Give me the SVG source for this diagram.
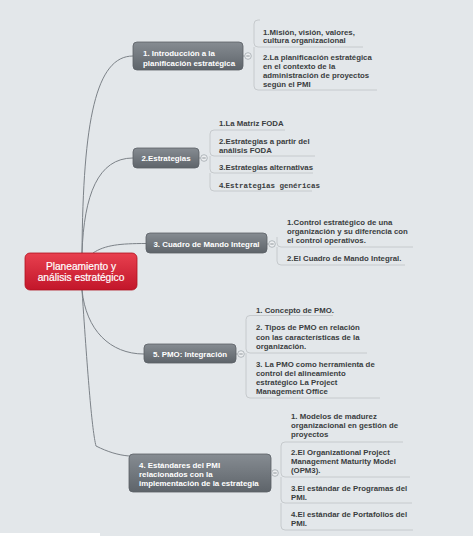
<svg xmlns="http://www.w3.org/2000/svg" width="473" height="536" viewBox="0 0 473 536">
<defs>
<linearGradient id="gGray" x1="0" y1="0" x2="0" y2="1">
<stop offset="0" stop-color="#868c92"/>
<stop offset="1" stop-color="#5e646a"/>
</linearGradient>
<linearGradient id="gRed" x1="0" y1="0" x2="0" y2="1">
<stop offset="0" stop-color="#e8404f"/>
<stop offset="1" stop-color="#c2162a"/>
</linearGradient>
<style>
.bg{fill:#e3e7ea}
.node{fill:url(#gGray);stroke:#5a6066;stroke-width:0.8}
.root{fill:url(#gRed);stroke:#b0121f;stroke-width:0.8}
.nt{font-family:"Liberation Sans",Arial,sans-serif;font-size:7.9px;font-weight:bold;fill:#ffffff}
.rt{font-family:"Liberation Sans",Arial,sans-serif;font-size:10.2px;fill:#ffffff;text-anchor:middle;stroke:#ffffff;stroke-width:0.2}
.ct{font-family:"Liberation Sans",Arial,sans-serif;font-size:7.8px;font-weight:bold;fill:#3a3d40}
.mono{font-family:"Liberation Mono","Courier New",monospace;font-weight:bold;font-size:7.5px;fill:#3a3d40}
.conn{fill:none;stroke:#7c8288;stroke-width:1}
.br{fill:none;stroke:#c6cacd;stroke-width:1}
.col{fill:#eceef0;stroke:#9aa0a6;stroke-width:0.7}
.minus{stroke:#7a8086;stroke-width:0.8}
</style>
</defs>
<rect class="bg" x="0" y="0" width="473" height="536"/>
<rect x="0" y="533" width="100" height="3" fill="#ffffff"/>

<g id="connectors">
<path class="conn" d="M82,253 C83,120 96,56 133,56"/>
<path class="conn" d="M82,253 C84,195 98,158 133,158"/>
<path class="conn" d="M93,253 C105,245 120,243.5 146,243.5"/>
<path class="conn" d="M82,290 C86,330 110,354 144,354"/>
<path class="conn" d="M82,290 C88,380 92,430 96,446 C108,452 118,455 129,456"/>
</g>

<g id="root">
<rect class="root" x="25" y="253" width="112" height="37" rx="5"/>
<text class="rt" x="81" y="269.5">Planeamiento y</text>
<text class="rt" x="81" y="281">análisis estratégico</text>
</g>

<g id="node1">
<rect class="node" x="133" y="42" width="110" height="28" rx="4"/>
<text class="nt" x="143" y="55.5">1. Introducción a la</text>
<text class="nt" x="143" y="65.5">planificación estratégica</text>
<line class="minus" x1="243" y1="56" x2="244.5" y2="56"/>
<circle class="col" cx="248" cy="56" r="3.3"/>
<line class="minus" x1="246.3" y1="56" x2="249.7" y2="56"/>
</g>
<g id="node1-children">
<path class="br" d="M260,20 L258,20 Q254,20 254,24 L254,43 Q254,47 258,47 L363,47"/>
<path class="br" d="M254,47 L254,86 Q254,90 258,90 L377,90"/>
<text class="ct" x="263" y="34.5">1.Misión, visión, valores,</text>
<text class="ct" x="263" y="43">cultura organizacional</text>
<text class="ct" x="263" y="59.5">2.La planificación estratégica</text>
<text class="ct" x="263" y="68.5">en el contexto de la</text>
<text class="ct" x="263" y="77.5">administración de proyectos</text>
<text class="ct" x="263" y="86.5">según el PMI</text>
</g>

<g id="node2">
<rect class="node" x="133" y="148" width="66" height="20" rx="4"/>
<text class="nt" x="166" y="161" text-anchor="middle">2.Estrategias</text>
<line class="minus" x1="199" y1="158" x2="200.5" y2="158"/>
<circle class="col" cx="204" cy="158" r="3.3"/>
<line class="minus" x1="202.3" y1="158" x2="205.7" y2="158"/>
</g>
<g id="node2-children">
<path class="br" d="M285,130 L214,130 Q210,130 210,134 L210,152 Q210,156 214,156 L315,156"/>
<path class="br" d="M210,156 L210,169 Q210,173 214,173 L313,173"/>
<path class="br" d="M210,173 L210,187 Q210,191 214,191 L312,191"/>
<text class="ct" x="219" y="125.5">1.La Matriz FODA</text>
<text class="ct" x="219" y="144">2.Estrategias a partir del</text>
<text class="ct" x="219" y="152.5">análisis FODA</text>
<text class="ct" x="219" y="170">3.Estrategias alternativas</text>
<text class="ct" x="219" y="188">4.<tspan class="mono">Estrategias genéricas</tspan></text>
</g>

<g id="node3">
<rect class="node" x="146" y="233" width="121" height="20" rx="4"/>
<text class="nt" x="206.5" y="246.5" text-anchor="middle">3. Cuadro de Mando Integral</text>
<line class="minus" x1="267" y1="244" x2="268.5" y2="244"/>
<circle class="col" cx="272" cy="244" r="3.3"/>
<line class="minus" x1="270.3" y1="244" x2="273.7" y2="244"/>
</g>
<g id="node3-children">
<path class="br" d="M277,237 L277,243 Q277,247 281,247 L413,247"/>
<path class="br" d="M277,247 L277,261 Q277,265 281,265 L405,265"/>
<text class="ct" x="287" y="225">1.Control estratégico de una</text>
<text class="ct" x="287" y="234">organización y su diferencia con</text>
<text class="ct" x="287" y="243">el control operativos.</text>
<text class="ct" x="287" y="261">2.El Cuadro de Mando Integral.</text>
</g>

<g id="node5">
<rect class="node" x="144" y="344" width="92" height="19" rx="4"/>
<text class="nt" x="190" y="357" text-anchor="middle">5. PMO: Integración</text>
<line class="minus" x1="236" y1="354" x2="237.5" y2="354"/>
<circle class="col" cx="241" cy="354" r="3.3"/>
<line class="minus" x1="239.3" y1="354" x2="242.7" y2="354"/>
</g>
<g id="node5-children">
<path class="br" d="M333,315.5 L250,315.5 Q246,315.5 246,319.5 L246,349 Q246,353 250,353 L367,353"/>
<path class="br" d="M246,353 L246,394 Q246,398 250,398 L380,398"/>
<text class="ct" x="256" y="313">1. Concepto de PMO.</text>
<text class="ct" x="256" y="330">2. Tipos de PMO en relación</text>
<text class="ct" x="256" y="339.5">con las características de la</text>
<text class="ct" x="256" y="349">organización.</text>
<text class="ct" x="256" y="366.5">3. La PMO como herramienta de</text>
<text class="ct" x="256" y="375.5">control del alineamiento</text>
<text class="ct" x="256" y="385">estratégico La Project</text>
<text class="ct" x="256" y="394">Management Office</text>
</g>

<g id="node4">
<rect class="node" x="129" y="454" width="142" height="38" rx="4"/>
<text class="nt" x="139" y="468">4. Estándares del PMI</text>
<text class="nt" x="139" y="477">relacionados con la</text>
<text class="nt" x="139" y="486">implementación de la estrategia</text>
<line class="minus" x1="271" y1="473" x2="271.5" y2="473"/>
<circle class="col" cx="275" cy="473" r="3.3"/>
<line class="minus" x1="273.3" y1="473" x2="276.7" y2="473"/>
</g>
<g id="node4-children">
<path class="br" d="M403,442 L285,442 Q281,442 281,446 L281,473 Q281,477 285,477 L410,477"/>
<path class="br" d="M281,477 L281,499 Q281,503 285,503 L412,503"/>
<path class="br" d="M281,503 L281,526 Q281,530 285,530 L413,530"/>
<text class="ct" x="291" y="418.5">1. Modelos de madurez</text>
<text class="ct" x="291" y="427.5">organizacional en gestión de</text>
<text class="ct" x="291" y="436.5">proyectos</text>
<text class="ct" x="291" y="455">2.El Organizational Project</text>
<text class="ct" x="291" y="464">Management Maturity Model</text>
<text class="ct" x="291" y="473">(OPM3).</text>
<text class="ct" x="291" y="491">3.El estándar de Programas del</text>
<text class="ct" x="291" y="500">PMI.</text>
<text class="ct" x="291" y="516.5">4.El estándar de Portafolios del</text>
<text class="ct" x="291" y="525.5">PMI.</text>
</g>
</svg>
